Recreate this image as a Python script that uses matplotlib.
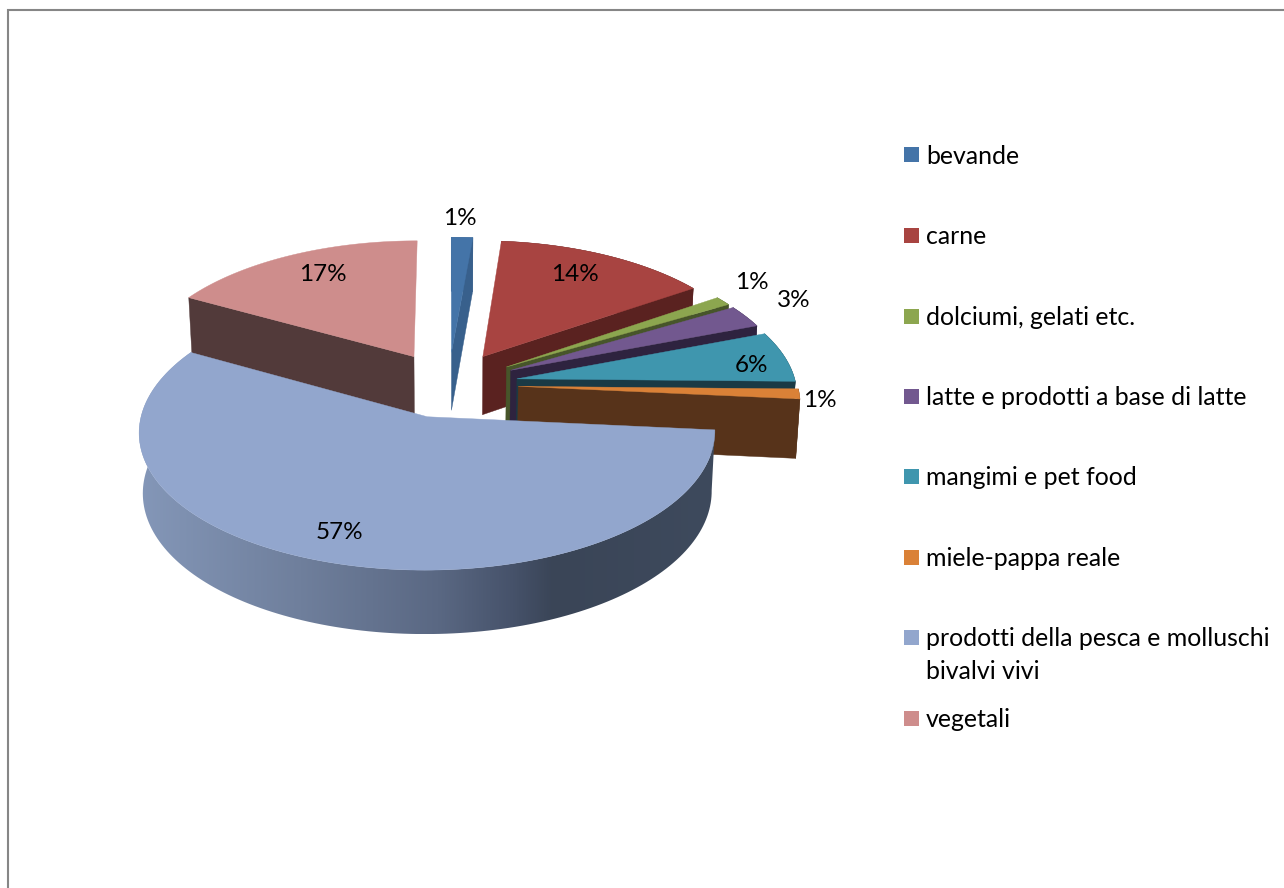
import numpy as np
import matplotlib
matplotlib.use("Agg")
import matplotlib.pyplot as plt
from matplotlib.colors import LinearSegmentedColormap
from matplotlib.patches import Polygon, Rectangle

plt.rcParams['font.family'] = ['Lato', 'DejaVu Sans']

categories = ["bevande", "carne", "dolciumi, gelati etc.", "latte e prodotti a base di latte",
              "mangimi e pet food", "miele-pappa reale",
              "prodotti della pesca e molluschi\nbivalvi vivi", "vegetali"]
values = [1.4, 14.0, 1.1, 2.7, 6.1, 1.2, 56.6, 16.9]
top_colors = ["#4474A8", "#A84441", "#8CA64F", "#72588F", "#3F96AE", "#DA8137", "#92A6CD", "#CE8D8C"]
side_colors = ["#38608C", "#5A2220", "#47552A", "#2E233F", "#1A3A45", "#57331A", "#3C4759", "#523A3A"]
label_xy = [(460, 218), (575, 274), (752, 282), (794, 300), (751, 365), (820, 400), (339, 532), (323, 274)]
legend_y = [156, 236, 317, 397, 477, 558, 638, 719]

CX, CY, RX, RY, PERSP_X, PERSP_Y, EXPLODE = 448.5, 384.5, 279.0, 132.0, 9.5, 10.4, 0.25
FS_LEGEND, FS_LABEL = 17.9, 17.5

fig = plt.figure(figsize=(12.84, 8.88), dpi=100, facecolor="white")
ax = fig.add_axes([0, 0, 1, 1])
ax.set_xlim(0, 1284)
ax.set_ylim(888, 0)
ax.axis("off")


def project(u, v, z=0.0):
    u, v = np.asarray(u, float), np.asarray(v, float)
    sx = PERSP_X / (PERSP_X + v)
    sy = PERSP_Y / (PERSP_Y + v)
    x = CX + RX * u * sx * (1 - 0.012 * z)
    y = CY - RY * v * sy + (59 - 4 * v) * z
    return np.column_stack([x, y])


fractions = np.array(values) / sum(values)
edges = np.concatenate([[0], np.cumsum(fractions)]) * 2 * np.pi
slices = []
for i in range(len(values)):
    a0, a1 = edges[i], edges[i + 1]
    mid = (a0 + a1) / 2
    ou, ov = EXPLODE * np.sin(mid), EXPLODE * np.cos(mid)
    t = np.linspace(a0, a1, 160)
    slices.append((a0, a1, ou, ov, ou + np.sin(t), ov + np.cos(t)))


def poly(points, color, z):
    p = Polygon(points, closed=True, facecolor=color, edgecolor=color, linewidth=0.3, zorder=z)
    ax.add_patch(p)
    return p


z = 2
big = int(np.argmax(values))
last = len(values) - 1
order = [last] + list(range(last))
for i in order:
    a0, a1, ou, ov, u, v = slices[i]
    rim_top, rim_bot = project(u, v, 0), project(u, v, 1)
    rim = np.vstack([rim_top, rim_bot[::-1]])
    if i == big:
        rim_patch = Polygon(rim, closed=True, facecolor="none", edgecolor="none", zorder=z)
        ax.add_patch(rim_patch)
        x0, x1 = rim[:, 0].min(), rim[:, 0].max()
        y0, y1 = rim[:, 1].min(), rim[:, 1].max()
        cmap = LinearSegmentedColormap.from_list(
            "side", [(0, "#8497B8"), (0.28, "#6F7F9C"), (0.52, "#5A6883"),
                     (0.65, "#46526A"), (0.72, "#3A4557"), (1, "#3E4A5D")])
        im = ax.imshow(np.linspace(0, 1, 512)[None, :], extent=(x0, x1, y1, y0), cmap=cmap,
                       aspect="auto", zorder=z, interpolation="bilinear")
        im.set_clip_path(rim_patch)
    elif i != last:
        poly(rim, side_colors[i], z)
    z += 1
    # cut face: the radial edge turned towards the viewer
    if i != big:
        edge = 0 if i == last else -1
        out_u, out_v = u[edge], v[edge]
        face = np.vstack([project([ou, out_u], [ov, out_v], 0),
                          project([out_u, ou], [out_v, ov], 1)])
        poly(face, side_colors[i], z)
        z += 1
    top = np.vstack([project([ou], [ov], 0), rim_top])
    poly(top, top_colors[i], z)
    z += 1
ax.set_xlim(0, 1284)
ax.set_ylim(888, 0)

for (x, y), val in zip(label_xy, values):
    ax.text(x, y, f"{round(val)}%", ha="center", va="center", fontsize=FS_LABEL, color="black", zorder=50)

for name, y, col in zip(categories, legend_y, top_colors):
    ax.add_patch(Rectangle((904, y - 8.5), 15, 15, facecolor=col, edgecolor="none", zorder=50))
    for k, line in enumerate(name.split("\n")):
        ax.text(926, y + k * 33, line, ha="left", va="center", fontsize=FS_LEGEND, color="black", zorder=50)

ax.plot([8, 8, 1284], [888, 10, 10], color="#868686", lw=1.5, solid_joinstyle="miter", zorder=60)

fig.savefig("out.png", dpi=100, facecolor="white")
